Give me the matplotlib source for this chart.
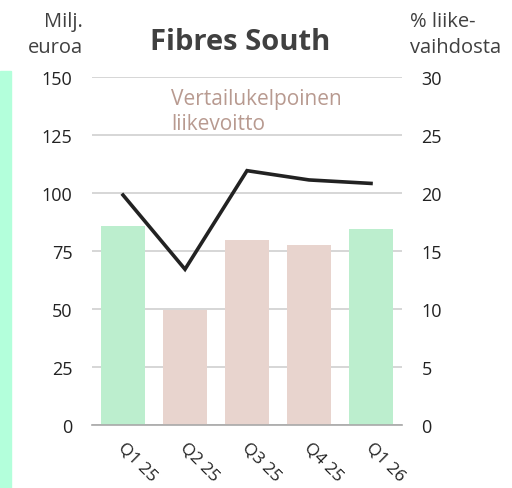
import matplotlib.pyplot as plt
import numpy as np
from matplotlib.patches import Rectangle
from matplotlib.transforms import ScaledTranslation

quarters = ['Q1 25', 'Q2 25', 'Q3 25', 'Q4 25', 'Q1 26']
profit = [85.5, 49.5, 79.7, 77.6, 84.5]          # Milj. euroa
margin = [19.8, 13.4, 21.9, 21.1, 20.8]          # % liikevaihdosta
bar_colors = ['#BCEECE', '#E8D4CE', '#E8D4CE', '#E8D4CE', '#BCEECE']

plt.rcParams['font.family'] = ['Open Sans', 'DejaVu Sans']

fig = plt.figure(figsize=(5.12, 4.89), dpi=100)
ax = fig.add_axes([92/512, 1 - 425.7/489, 310/512, 348/489])
ax2 = ax.twinx()

x = np.arange(len(quarters))
ax.bar(x, profit, width=0.71, color=bar_colors, zorder=2)
ax2.plot(x, margin, color='#222222', lw=2.6, solid_joinstyle='miter', zorder=3)

ax.set_xlim(-0.5, len(quarters) - 0.5)
ax.set_ylim(0, 150)
ax2.set_ylim(0, 30)
ax.set_yticks([0, 25, 50, 75, 100, 125, 150])
ax2.set_yticks([0, 5, 10, 15, 20, 25, 30])
ax.yaxis.grid(True, color='#D0D0D0', lw=1.2, zorder=0)
ax.set_axisbelow(True)

for a in (ax, ax2):
    for s in a.spines.values():
        s.set_visible(False)
    a.tick_params(length=0, labelsize=13, labelcolor='#222222')
ax.spines['bottom'].set_visible(True)
ax.spines['bottom'].set_color('#A8A8A8')
ax.spines['bottom'].set_linewidth(1.2)
ax.tick_params(axis='y', pad=14)
ax2.tick_params(axis='y', pad=14)

ax.set_xticks(x)
ax.set_xticklabels(quarters, rotation=-45, ha='left', va='top', rotation_mode='anchor')
ax.tick_params(axis='x', pad=10, labelsize=12.5)
for lbl in ax.get_xticklabels():
    lbl.set_transform(lbl.get_transform() + ScaledTranslation(3/100, 0, fig.dpi_scale_trans))

fig.text(240/512, 1 - 43/489, 'Fibres South', fontsize=21, fontweight='bold',
         color='#404040', ha='center', va='center')
fig.text(83/512, 1 - 35/489, 'Milj.\neuroa', fontsize=14.5, color='#404040',
         ha='right', va='center', linespacing=1.35)
fig.text(410/512, 1 - 35/489, '% liike-\nvaihdosta', fontsize=14.5, color='#404040',
         ha='left', va='center', linespacing=1.35)
fig.text(171/512, 1 - 112/489, 'Vertailukelpoinen\nliikevoitto', fontsize=15,
         color='#B89A90', ha='left', va='center', linespacing=1.3)

fig.patches.append(Rectangle((0, 0), 11/512, 1 - 72/489, transform=fig.transFigure,
                             color='#B3FFDB', zorder=0))

fig.savefig('out.png', dpi=100)
